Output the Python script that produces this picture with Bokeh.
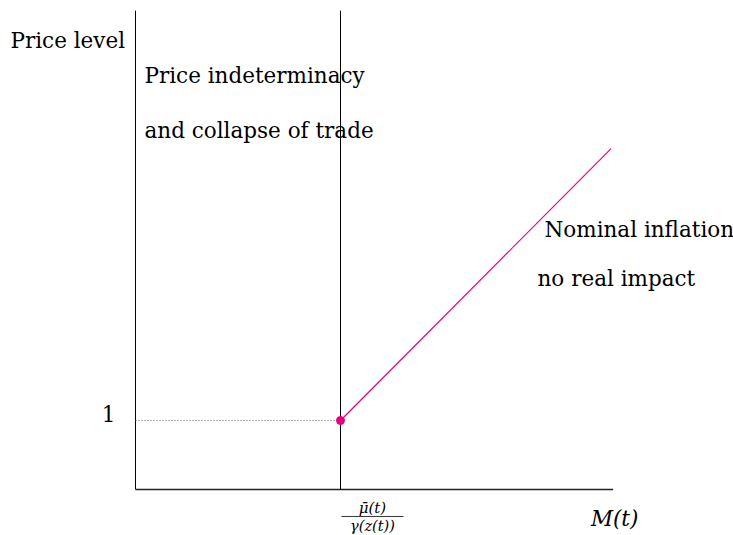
from bokeh.plotting import figure
from bokeh.models import Range1d
from bokeh.embed import file_html
from bokeh.resources import INLINE
from bokeh.core.properties import value

# data (model units: money on x, price level on y)
m_threshold = 1.0          # mu_bar(t)/gamma(z(t))
p_floor = 1.0              # price level at threshold
x_axis_max = 2.33
y_axis_max = 6.94
line_m = [1.0, 2.32]
line_p = [1.0, 4.94]

FONT = "DejaVu Serif"
SIZE = "21.5px"

p = figure(width=733, height=535, output_backend="svg", toolbar_location=None,
           x_range=Range1d(-0.6585, 2.917), y_range=Range1d(-0.6667, 7.087),
           min_border=0)
p.axis.visible = False
p.grid.visible = False
p.outline_line_color = None
p.background_fill_color = "white"
p.border_fill_color = "white"

# axes
p.line([0, 0], [0, y_axis_max], line_color="black", line_width=1)
p.line([0, x_axis_max], [0, 0], line_color="#222222", line_width=1.5)
# threshold vertical line
p.line([m_threshold, m_threshold], [0, y_axis_max], line_color="black", line_width=1)
# dotted guide at price 1
p.line([0, m_threshold], [p_floor, p_floor], line_color="#666666",
       line_width=1, line_dash="1 2")
# price line
p.line(line_m, line_p, line_color="#e6007e", line_width=1.2)
p.scatter([m_threshold], [p_floor], size=8, color="#e6007e")

def txt(x, y, s, align="left", size=SIZE, style="normal"):
    p.text(x=[x], y=[y], text=[s], text_font=value(FONT), text_font_size=size,
           text_align=align, text_baseline="middle", text_color="black",
           text_font_style=style)

txt(-0.6098, 6.507, "Price level")
txt(-0.1317, 1.101, "1", align="center")
txt(0.0439, 6.0, "Price indeterminacy")
txt(0.0439, 5.203, "and collapse of trade")
txt(1.995, 3.768, "Nominal inflation")
txt(1.961, 3.058, "no real impact")
txt(2.337, -0.42, "M(t)", align="center", style="italic")
txt(1.156, -0.275, "\u03bc\u0304(t)", align="center", size="15px", style="italic")
p.line([1.005, 1.307], [-0.391, -0.391], line_color="black", line_width=0.8)
txt(1.156, -0.53, "\u03b3(z(t))", align="center", size="14.5px", style="italic")

open("out.html", "w").write(file_html(p, INLINE))
